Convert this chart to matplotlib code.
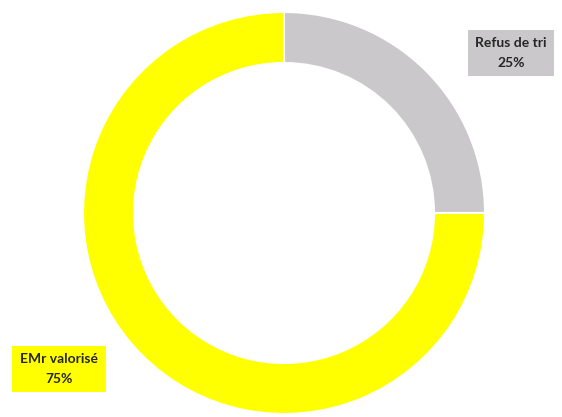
import matplotlib.pyplot as plt

# Données
categories = ['Refus de tri', 'EMr valorisé']
valeurs = [25, 75]
couleurs = ['#cac8ca', '#ffff00']

fig = plt.figure(figsize=(5.62, 4.17), dpi=100)
ax = fig.add_axes([0, 0, 1, 1])

ax.pie(valeurs, colors=couleurs, startangle=90, counterclock=False,
       center=(284, 204), radius=201,
       wedgeprops=dict(width=51, edgecolor='white', linewidth=1.5),
       frame=True)
ax.set_xlim(0, 562)
ax.set_ylim(0, 417)
ax.axis('off')

# Étiquettes
positions = [(511, 364), (59, 48)]
for cat, val, col, (x, y) in zip(categories, valeurs, couleurs, positions):
    ax.text(x, y, f"{cat}\n{val}%", ha='center', va='center',
            fontsize=10, fontweight='bold', family='Lato', color='#262626',
            linespacing=1.75,
            bbox=dict(boxstyle='square,pad=0.55', facecolor=col, edgecolor='none'))

plt.savefig('out.png', dpi=100)
